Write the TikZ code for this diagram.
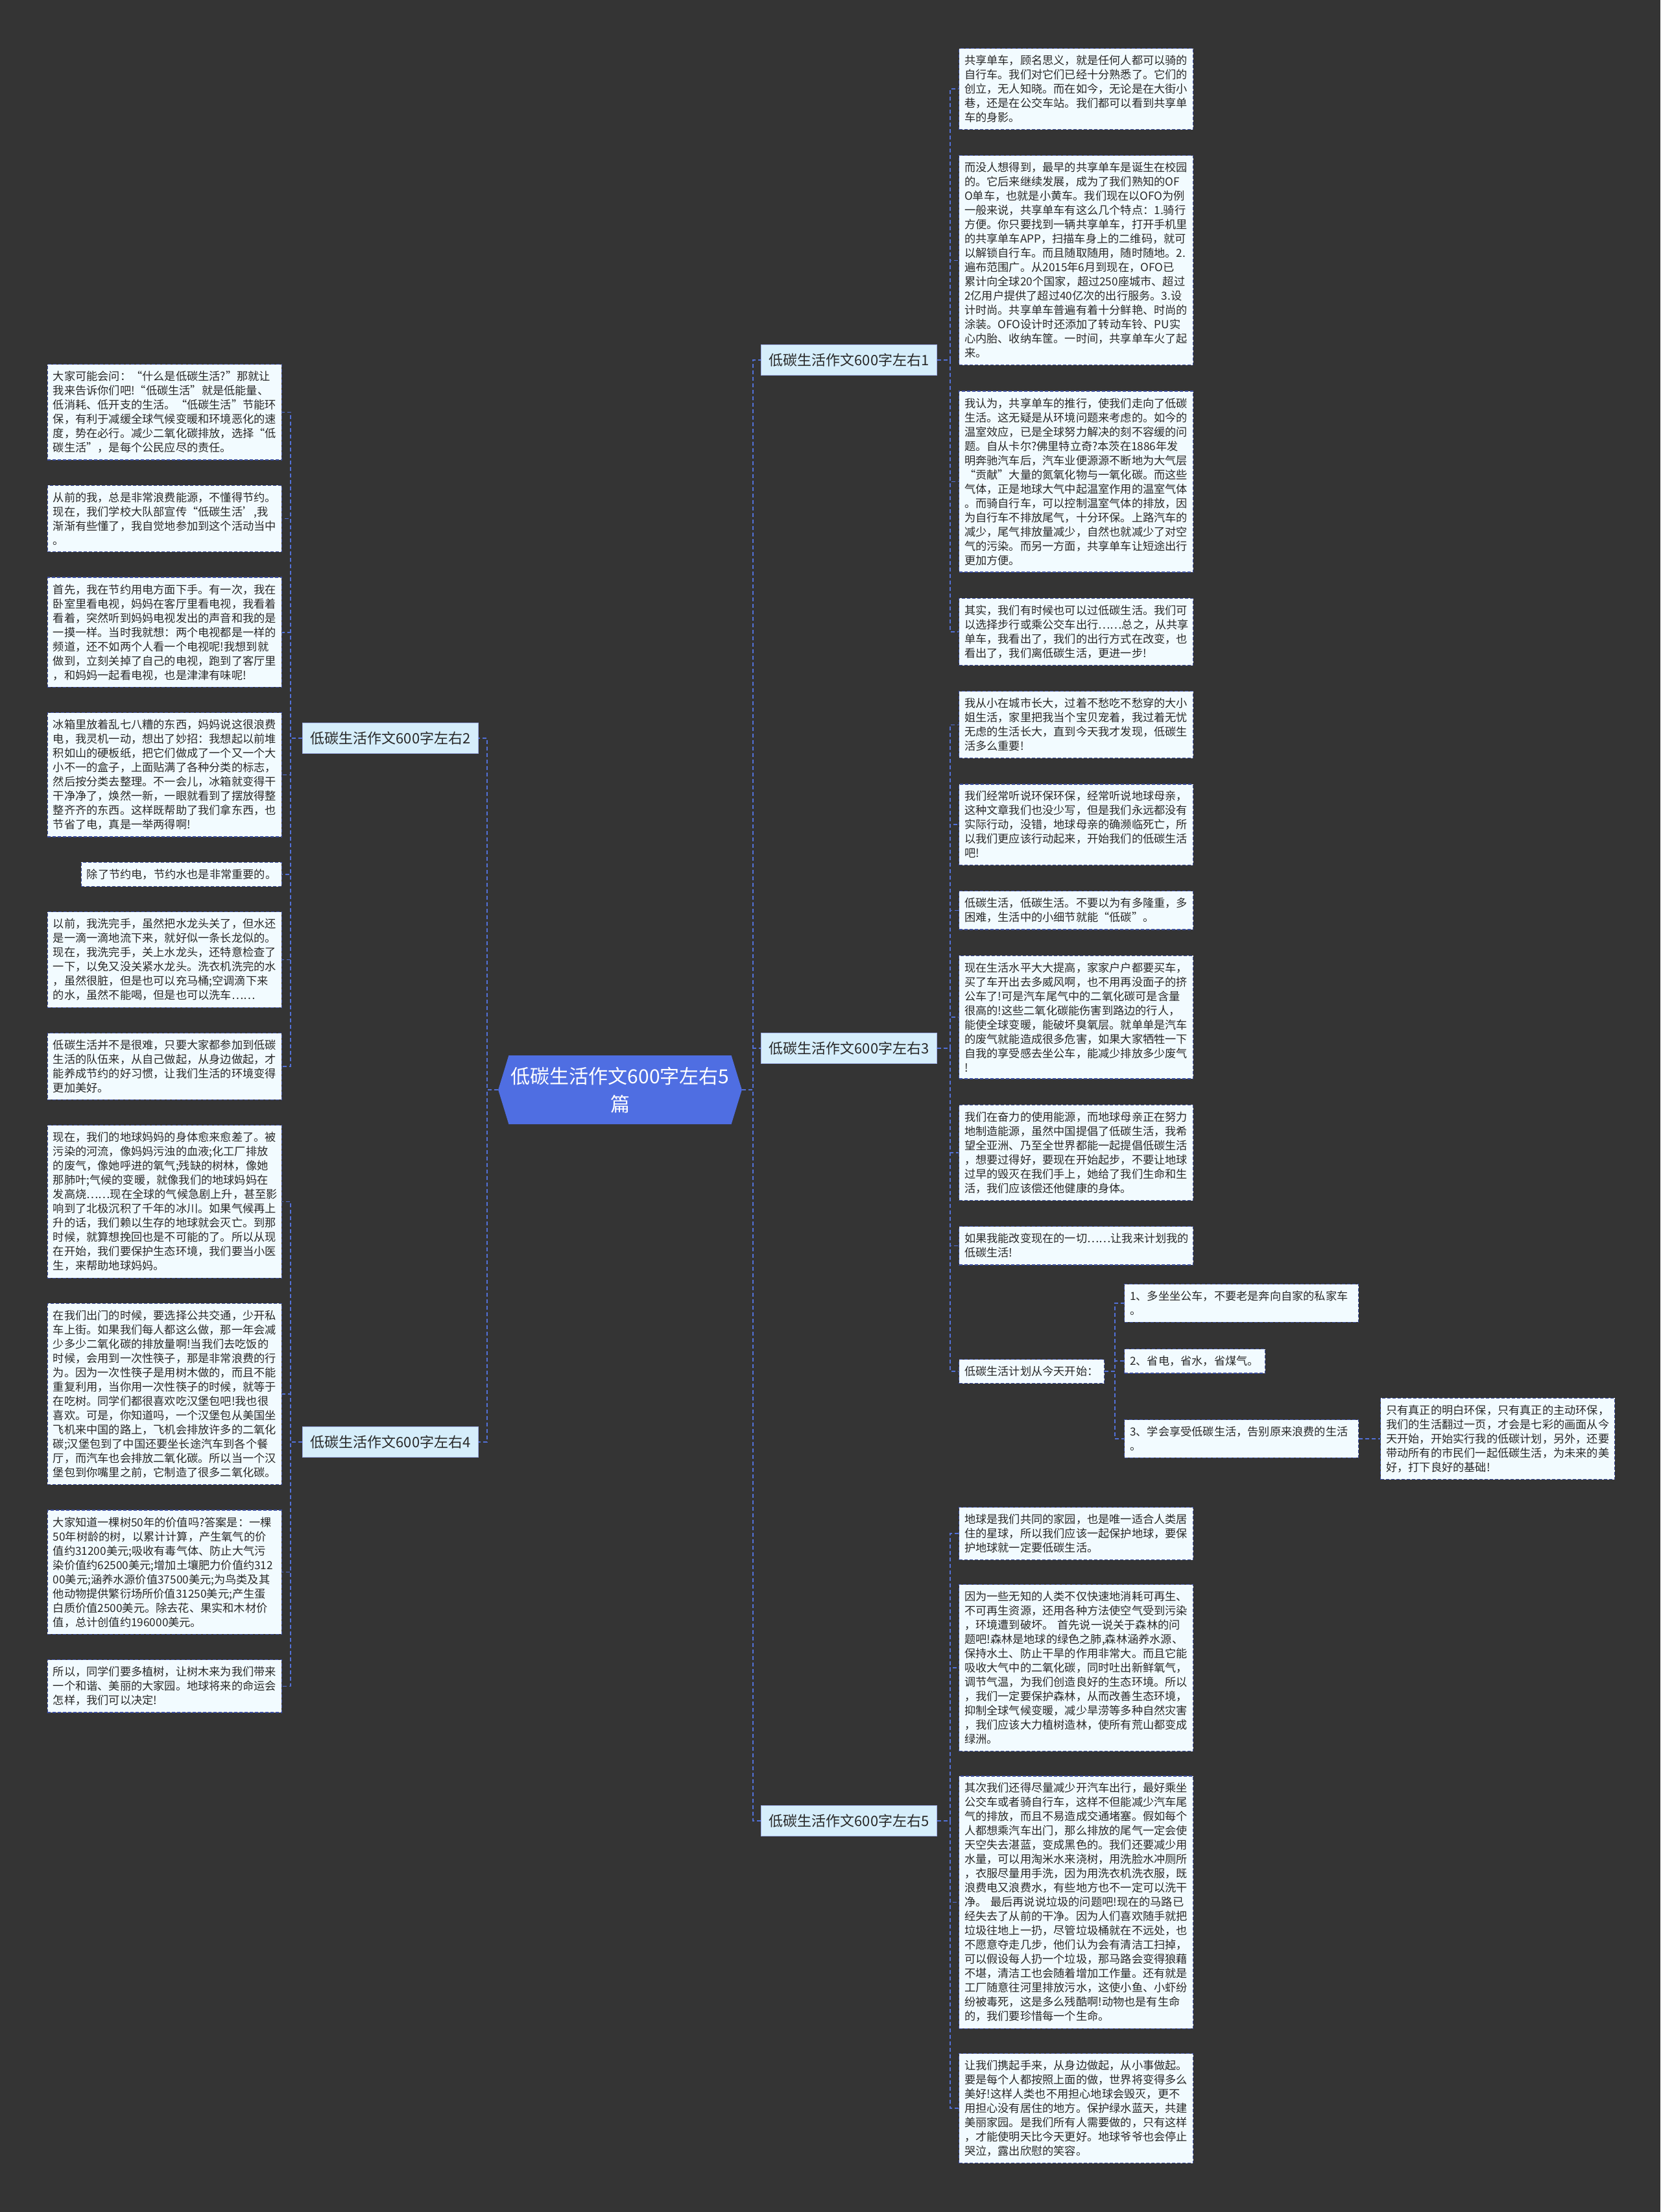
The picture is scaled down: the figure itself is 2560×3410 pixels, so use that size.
\documentclass[tikz,border=0pt]{standalone}
\usepackage{fontspec}
\setmainfont{Noto Sans CJK SC}
\usepackage{xcolor}
\usepackage{tikz}
\usetikzlibrary{positioning,shapes.symbols}
\definecolor{corfundo}{RGB}{52,52,52}
\definecolor{corraiz}{RGB}{79,110,226}
\definecolor{corramo}{RGB}{214,238,251}
\definecolor{corfolha}{RGB}{242,251,255}
\definecolor{corlinha}{RGB}{82,112,214}
\definecolor{corborda}{RGB}{60,78,160}
\definecolor{cortexto}{RGB}{40,40,40}

\begin{document}
\begin{tikzpicture}[x=1pt, y=-1pt,
  raiz/.style={signal, signal to=west and east, signal pointer angle=146,
               fill=corraiz, text=white, minimum width=368pt, minimum height=106pt,
               align=center, font=\fontsize{30}{43}\selectfont},
  ramo/.style={rectangle, draw=corlinha!55, line width=1pt, fill=corramo,
               text=cortexto, inner xsep=12pt, inner ysep=13pt,
               font=\fontsize{22}{26}\selectfont},
  folha/.style={rectangle, draw=corborda, line width=1.2pt, dash pattern=on 5pt off 3pt,
                fill=corfolha, text=cortexto, text width=344pt, align=left,
                inner xsep=8.5pt, inner ysep=10.5pt, font=\fontsize{17.2}{22}\selectfont},
  ligacao/.style={draw=corlinha, line width=1.6pt, dash pattern=on 6pt off 4pt}
]
  \useasboundingbox (0,0) rectangle (2560,3410);
  \fill[corfundo] (0,0) rectangle (2560,3410);

  % centro e ramos
  \node[raiz] (raiz) at (956,1680) {低碳生活作文600字左右5\\篇};
  \node[ramo] (ramo1) at (1309,555) {低碳生活作文600字左右1};
  \node[ramo] (ramo3) at (1309,1616) {低碳生活作文600字左右3};
  \node[ramo] (ramo5) at (1309,2807) {低碳生活作文600字左右5};
  \node[ramo] (ramo2) at (602,1138) {低碳生活作文600字左右2};
  \node[ramo] (ramo4) at (602,2223) {低碳生活作文600字左右4};

  % lado direito
  \node[folha, anchor=north west] (d1) at (1478,74) {共享单车，顾名思义，就是任何人都可以骑的\\自行车。我们对它们已经十分熟悉了。它们的\\创立，无人知晓。而在如今，无论是在大街小\\巷，还是在公交车站。我们都可以看到共享单\\车的身影。};
  \node[folha, below=39pt of d1] (d2) {而没人想得到，最早的共享单车是诞生在校园\\的。它后来继续发展，成为了我们熟知的OF\\O单车，也就是小黄车。我们现在以OFO为例\\一般来说，共享单车有这么几个特点：1.骑行\\方便。你只要找到一辆共享单车，打开手机里\\的共享单车APP，扫描车身上的二维码，就可\\以解锁自行车。而且随取随用，随时随地。2.\\遍布范围广。从2015年6月到现在，OFO已\\累计向全球20个国家，超过250座城市、超过\\2亿用户提供了超过40亿次的出行服务。3.设\\计时尚。共享单车普遍有着十分鲜艳、时尚的\\涂装。OFO设计时还添加了转动车铃、PU实\\心内胎、收纳车筐。一时间，共享单车火了起\\来。};
  \node[folha, below=39pt of d2] (d3) {我认为，共享单车的推行，使我们走向了低碳\\生活。这无疑是从环境问题来考虑的。如今的\\温室效应，已是全球努力解决的刻不容缓的问\\题。自从卡尔?佛里特立奇?本茨在1886年发\\明奔驰汽车后，汽车业便源源不断地为大气层\\“贡献”大量的氮氧化物与一氧化碳。而这些\\气体，正是地球大气中起温室作用的温室气体\\。而骑自行车，可以控制温室气体的排放，因\\为自行车不排放尾气，十分环保。上路汽车的\\减少，尾气排放量减少，自然也就减少了对空\\气的污染。而另一方面，共享单车让短途出行\\更加方便。};
  \node[folha, below=39pt of d3] (d4) {其实，我们有时候也可以过低碳生活。我们可\\以选择步行或乘公交车出行……总之，从共享\\单车，我看出了，我们的出行方式在改变，也\\看出了，我们离低碳生活，更进一步!};
  \node[folha, below=39pt of d4] (d5) {我从小在城市长大，过着不愁吃不愁穿的大小\\姐生活，家里把我当个宝贝宠着，我过着无忧\\无虑的生活长大，直到今天我才发现，低碳生\\活多么重要!};
  \node[folha, below=39pt of d5] (d6) {我们经常听说环保环保，经常听说地球母亲，\\这种文章我们也没少写，但是我们永远都没有\\实际行动，没错，地球母亲的确濒临死亡，所\\以我们更应该行动起来，开始我们的低碳生活\\吧!};
  \node[folha, below=39pt of d6] (d7) {低碳生活，低碳生活。不要以为有多隆重，多\\困难，生活中的小细节就能“低碳”。};
  \node[folha, below=39pt of d7] (d8) {现在生活水平大大提高，家家户户都要买车，\\买了车开出去多威风啊，也不用再没面子的挤\\公车了!可是汽车尾气中的二氧化碳可是含量\\很高的!这些二氧化碳能伤害到路边的行人，\\能使全球变暖，能破坏臭氧层。就单单是汽车\\的废气就能造成很多危害，如果大家牺牲一下\\自我的享受感去坐公车，能减少排放多少废气\\!};
  \node[folha, below=39pt of d8] (d9) {我们在奋力的使用能源，而地球母亲正在努力\\地制造能源，虽然中国提倡了低碳生活，我希\\望全亚洲、乃至全世界都能一起提倡低碳生活\\，想要过得好，要现在开始起步，不要让地球\\过早的毁灭在我们手上，她给了我们生命和生\\活，我们应该偿还他健康的身体。};
  \node[folha, below=39pt of d9] (d10) {如果我能改变现在的一切……让我来计划我的\\低碳生活!};

  % plano
  \node[folha, text width=207pt, anchor=west] (plano) at (1478,2114) {低碳生活计划从今天开始：};
  \node[folha, anchor=north west] (item1) at (1733,1979) {1、多坐坐公车，不要老是奔向自家的私家车\\。};
  \node[folha, text width=200pt, anchor=north west] (item2) at (1733,2079) {2、省电，省水，省煤气。};
  \node[folha, anchor=north west] (item3) at (1733,2188) {3、学会享受低碳生活，告别原来浪费的生活\\。};
  \node[folha, right=33pt of item3] (detalhe) {只有真正的明白环保，只有真正的主动环保，\\我们的生活翻过一页，才会是七彩的画面从今\\天开始，开始实行我的低碳计划，另外，还要\\带动所有的市民们一起低碳生活，为未来的美\\好，打下良好的基础!};

  \node[folha, anchor=north west] (d11) at (1478,2323) {地球是我们共同的家园，也是唯一适合人类居\\住的星球，所以我们应该一起保护地球，要保\\护地球就一定要低碳生活。};
  \node[folha, below=37pt of d11] (d12) {因为一些无知的人类不仅快速地消耗可再生、\\不可再生资源，还用各种方法使空气受到污染\\，环境遭到破坏。 首先说一说关于森林的问\\题吧!森林是地球的绿色之肺,森林涵养水源、\\保持水土、防止干旱的作用非常大。而且它能\\吸收大气中的二氧化碳，同时吐出新鲜氧气，\\调节气温，为我们创造良好的生态环境。所以\\，我们一定要保护森林，从而改善生态环境，\\抑制全球气候变暖，减少旱涝等多种自然灾害\\，我们应该大力植树造林，使所有荒山都变成\\绿洲。};
  \node[folha, below=37pt of d12] (d13) {其次我们还得尽量减少开汽车出行，最好乘坐\\公交车或者骑自行车，这样不但能减少汽车尾\\气的排放，而且不易造成交通堵塞。假如每个\\人都想乘汽车出门，那么排放的尾气一定会使\\天空失去湛蓝，变成黑色的。我们还要减少用\\水量，可以用淘米水来浇树，用洗脸水冲厕所\\，衣服尽量用手洗，因为用洗衣机洗衣服，既\\浪费电又浪费水，有些地方也不一定可以洗干\\净。 最后再说说垃圾的问题吧!现在的马路已\\经失去了从前的干净。因为人们喜欢随手就把\\垃圾往地上一扔，尽管垃圾桶就在不远处，也\\不愿意夺走几步，他们认为会有清洁工扫掉，\\可以假设每人扔一个垃圾，那马路会变得狼藉\\不堪，清洁工也会随着增加工作量。还有就是\\工厂随意往河里排放污水，这使小鱼、小虾纷\\纷被毒死，这是多么残酷啊!动物也是有生命\\的，我们要珍惜每一个生命。};
  \node[folha, below=37pt of d13] (d14) {让我们携起手来，从身边做起，从小事做起。\\要是每个人都按照上面的做，世界将变得多么\\美好!这样人类也不用担心地球会毁灭，更不\\用担心没有居住的地方。保护绿水蓝天，共建\\美丽家园。是我们所有人需要做的，只有这样\\，才能使明天比今天更好。地球爷爷也会停止\\哭泣，露出欣慰的笑容。};

  % lado esquerdo
  \node[folha, anchor=north east] (e1) at (435,561) {大家可能会问：“什么是低碳生活?”那就让\\我来告诉你们吧!“低碳生活”就是低能量、\\低消耗、低开支的生活。“低碳生活”节能环\\保，有利于减缓全球气候变暖和环境恶化的速\\度，势在必行。减少二氧化碳排放，选择“低\\碳生活”，是每个公民应尽的责任。};
  \node[folha, below=38pt of e1.south east, anchor=north east] (e2) {从前的我，总是非常浪费能源，不懂得节约。\\现在，我们学校大队部宣传“低碳生活’,我\\渐渐有些懂了，我自觉地参加到这个活动当中\\。};
  \node[folha, below=38pt of e2.south east, anchor=north east] (e3) {首先，我在节约用电方面下手。有一次，我在\\卧室里看电视，妈妈在客厅里看电视，我看着\\看着，突然听到妈妈电视发出的声音和我的是\\一摸一样。当时我就想：两个电视都是一样的\\频道，还不如两个人看一个电视呢!我想到就\\做到，立刻关掉了自己的电视，跑到了客厅里\\，和妈妈一起看电视，也是津津有味呢!};
  \node[folha, below=38pt of e3.south east, anchor=north east] (e4) {冰箱里放着乱七八糟的东西，妈妈说这很浪费\\电，我灵机一动，想出了妙招：我想起以前堆\\积如山的硬板纸，把它们做成了一个又一个大\\小不一的盒子，上面贴满了各种分类的标志，\\然后按分类去整理。不一会儿，冰箱就变得干\\干净净了，焕然一新，一眼就看到了摆放得整\\整齐齐的东西。这样既帮助了我们拿东西，也\\节省了电，真是一举两得啊!};
  \node[folha, text width=292pt, below=38pt of e4.south east, anchor=north east] (e5) {除了节约电，节约水也是非常重要的。};
  \node[folha, below=38pt of e5.south east, anchor=north east] (e6) {以前，我洗完手，虽然把水龙头关了，但水还\\是一滴一滴地流下来，就好似一条长龙似的。\\现在，我洗完手，关上水龙头，还特意检查了\\一下，以免又没关紧水龙头。洗衣机洗完的水\\，虽然很脏，但是也可以充马桶;空调滴下来\\的水，虽然不能喝，但是也可以洗车……};
  \node[folha, below=38pt of e6.south east, anchor=north east] (e7) {低碳生活并不是很难，只要大家都参加到低碳\\生活的队伍来，从自己做起，从身边做起，才\\能养成节约的好习惯，让我们生活的环境变得\\更加美好。};
  \node[folha, below=38pt of e7.south east, anchor=north east] (e8) {现在，我们的地球妈妈的身体愈来愈差了。被\\污染的河流，像妈妈污浊的血液;化工厂排放\\的废气，像她呼进的氧气;残缺的树林，像她\\那肺叶;气候的变暖，就像我们的地球妈妈在\\发高烧……现在全球的气候急剧上升，甚至影\\响到了北极沉积了千年的冰川。如果气候再上\\升的话，我们赖以生存的地球就会灭亡。到那\\时候，就算想挽回也是不可能的了。所以从现\\在开始，我们要保护生态环境，我们要当小医\\生，来帮助地球妈妈。};
  \node[folha, below=38pt of e8.south east, anchor=north east] (e9) {在我们出门的时候，要选择公共交通，少开私\\车上街。如果我们每人都这么做，那一年会减\\少多少二氧化碳的排放量啊!当我们去吃饭的\\时候，会用到一次性筷子，那是非常浪费的行\\为。因为一次性筷子是用树木做的，而且不能\\重复利用，当你用一次性筷子的时候，就等于\\在吃树。同学们都很喜欢吃汉堡包吧!我也很\\喜欢。可是，你知道吗，一个汉堡包从美国坐\\飞机来中国的路上，飞机会排放许多的二氧化\\碳;汉堡包到了中国还要坐长途汽车到各个餐\\厅，而汽车也会排放二氧化碳。所以当一个汉\\堡包到你嘴里之前，它制造了很多二氧化碳。};
  \node[folha, below=38pt of e9.south east, anchor=north east] (e10) {大家知道一棵树50年的价值吗?答案是：一棵\\50年树龄的树，以累计计算，产生氧气的价\\值约31200美元;吸收有毒气体、防止大气污\\染价值约62500美元;增加土壤肥力价值约312\\00美元;涵养水源价值37500美元;为鸟类及其\\他动物提供繁衍场所价值31250美元;产生蛋\\白质价值2500美元。除去花、果实和木材价\\值，总计创值约196000美元。};
  \node[folha, below=38pt of e10.south east, anchor=north east] (e11) {所以，同学们要多植树，让树木来为我们带来\\一个和谐、美丽的大家园。地球将来的命运会\\怎样，我们可以决定!};

  % ligacoes
  \draw[ligacao] (raiz.east) -- ++(17,0) |- (ramo1.west);
  \draw[ligacao] (raiz.east) -- ++(17,0) |- (ramo3.west);
  \draw[ligacao] (raiz.east) -- ++(17,0) |- (ramo5.west);
  \draw[ligacao] (raiz.west) -- ++(-17,0) |- (ramo2.east);
  \draw[ligacao] (raiz.west) -- ++(-17,0) |- (ramo4.east);

  \draw[ligacao] (ramo1.east) -- ++(20,0) |- (d1.west);
  \draw[ligacao] (ramo1.east) -- ++(20,0) |- (d2.west);
  \draw[ligacao] (ramo1.east) -- ++(20,0) |- (d3.west);
  \draw[ligacao] (ramo1.east) -- ++(20,0) |- (d4.west);
  \draw[ligacao] (ramo3.east) -- ++(20,0) |- (d5.west);
  \draw[ligacao] (ramo3.east) -- ++(20,0) |- (d6.west);
  \draw[ligacao] (ramo3.east) -- ++(20,0) |- (d7.west);
  \draw[ligacao] (ramo3.east) -- ++(20,0) |- (d8.west);
  \draw[ligacao] (ramo3.east) -- ++(20,0) |- (d9.west);
  \draw[ligacao] (ramo3.east) -- ++(20,0) |- (d10.west);
  \draw[ligacao] (ramo3.east) -- ++(20,0) |- (plano.west);
  \draw[ligacao] (plano.east) -- ++(16,0) |- (item1.west);
  \draw[ligacao] (plano.east) -- ++(16,0) |- (item2.west);
  \draw[ligacao] (plano.east) -- ++(16,0) |- (item3.west);
  \draw[ligacao] (item3) -- (detalhe);
  \draw[ligacao] (ramo5.east) -- ++(20,0) |- (d11.west);
  \draw[ligacao] (ramo5.east) -- ++(20,0) |- (d12.west);
  \draw[ligacao] (ramo5.east) -- ++(20,0) |- (d13.west);
  \draw[ligacao] (ramo5.east) -- ++(20,0) |- (d14.west);

  \draw[ligacao] (ramo2.west) -- ++(-18,0) |- (e1.east);
  \draw[ligacao] (ramo2.west) -- ++(-18,0) |- (e2.east);
  \draw[ligacao] (ramo2.west) -- ++(-18,0) |- (e3.east);
  \draw[ligacao] (ramo2.west) -- ++(-18,0) |- (e4.east);
  \draw[ligacao] (ramo2.west) -- ++(-18,0) |- (e5.east);
  \draw[ligacao] (ramo2.west) -- ++(-18,0) |- (e6.east);
  \draw[ligacao] (ramo2.west) -- ++(-18,0) |- (e7.east);
  \draw[ligacao] (ramo4.west) -- ++(-18,0) |- (e8.east);
  \draw[ligacao] (ramo4.west) -- ++(-18,0) |- (e9.east);
  \draw[ligacao] (ramo4.west) -- ++(-18,0) |- (e10.east);
  \draw[ligacao] (ramo4.west) -- ++(-18,0) |- (e11.east);
\end{tikzpicture}
\end{document}
